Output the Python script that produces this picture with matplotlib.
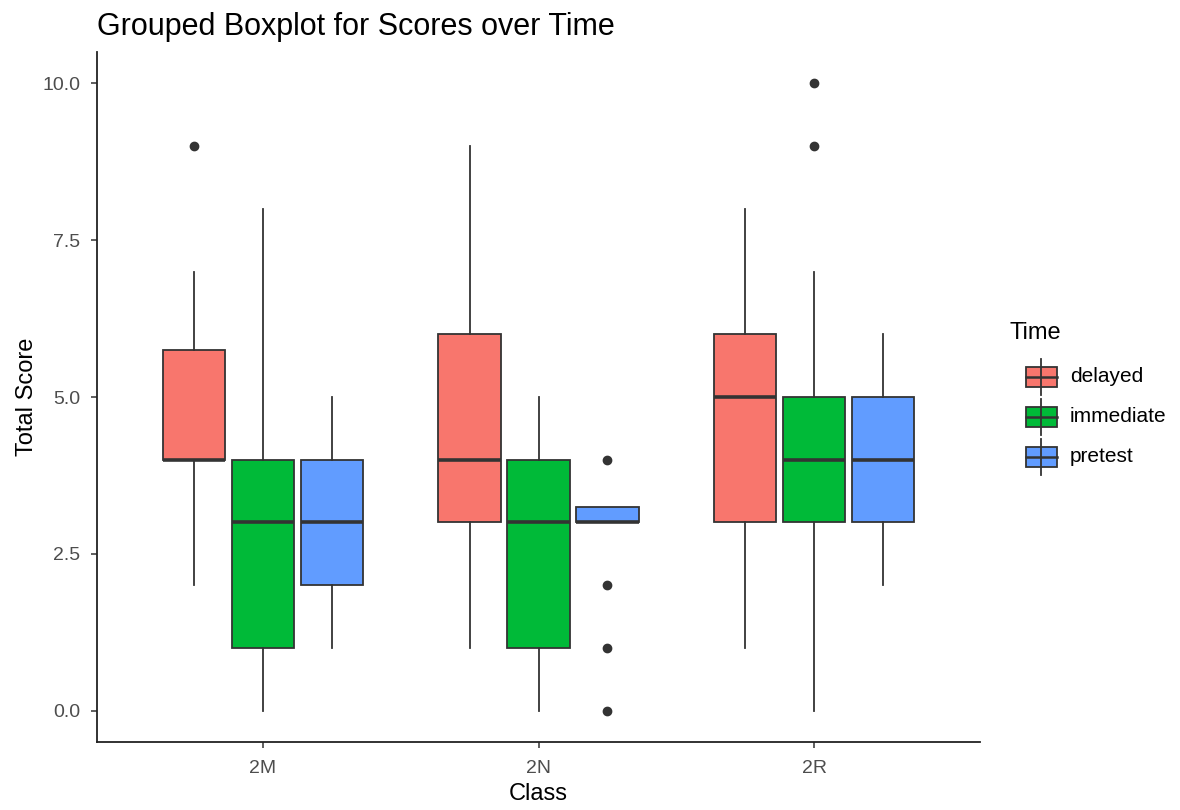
import matplotlib.pyplot as plt
from matplotlib.patches import Rectangle

plt.rcParams['font.family'] = ['Liberation Sans', 'DejaVu Sans']

classes = ['2M', '2N', '2R']
times = ['delayed', 'immediate', 'pretest']
colors = ['#F8766D', '#00BA38', '#619CFF']

# box stats per time, one entry per class: (low whisker, q1, median, q3, high whisker)
whislo = {'delayed': [2, 1, 1], 'immediate': [0, 0, 0], 'pretest': [1, 3, 2]}
q1 = {'delayed': [4, 3, 3], 'immediate': [1, 1, 3], 'pretest': [2, 3, 3]}
med = {'delayed': [4, 4, 5], 'immediate': [3, 3, 4], 'pretest': [3, 3, 4]}
q3 = {'delayed': [5.75, 6, 6], 'immediate': [4, 4, 5], 'pretest': [4, 3.25, 5]}
whishi = {'delayed': [7, 9, 8], 'immediate': [8, 5, 7], 'pretest': [5, 3.25, 6]}
outliers = {'delayed': [[9], [], []], 'immediate': [[], [], [9, 10]],
            'pretest': [[], [4, 2, 1, 0], []]}

fig = plt.figure(figsize=(11.8, 8.1), dpi=100)
ax = fig.add_axes([97 / 1180, 1 - 742 / 810, 883 / 1180, 690 / 810])

dark = '#333333'
for j, t in enumerate(times):
    stats = []
    for i in range(len(classes)):
        stats.append(dict(whislo=whislo[t][i], q1=q1[t][i], med=med[t][i],
                          q3=q3[t][i], whishi=whishi[t][i], fliers=outliers[t][i]))
    pos = [i + 1 + (j - 1) * 0.25 for i in range(len(classes))]
    ax.bxp(stats, positions=pos, widths=0.225, patch_artist=True, showcaps=False,
           boxprops=dict(facecolor=colors[j], edgecolor=dark, linewidth=1.3),
           whiskerprops=dict(color=dark, linewidth=1.3),
           medianprops=dict(color=dark, linewidth=2.6),
           flierprops=dict(marker='o', markerfacecolor=dark, markeredgecolor=dark,
                           markersize=6),
           zorder=2)

ax.set_xlim(0.4, 3.6)
ax.set_ylim(-0.5, 10.5)
ax.set_xticks([1, 2, 3])
ax.set_xticklabels(classes)
ax.set_yticks([0, 2.5, 5, 7.5, 10])
ax.set_yticklabels(['0.0', '2.5', '5.0', '7.5', '10.0'])
for s in ['top', 'right']:
    ax.spines[s].set_visible(False)
for s in ['left', 'bottom']:
    ax.spines[s].set_color('#222222')
    ax.spines[s].set_linewidth(1.3)
ax.tick_params(colors='#333333', labelcolor='#4D4D4D', labelsize=14, length=4, width=1.1)
ax.tick_params(axis='x', pad=9)
ax.tick_params(axis='y', pad=8)
ax.set_xlabel('Class', fontsize=17, labelpad=4)
ax.set_ylabel('Total Score', fontsize=17, labelpad=3)
ax.set_title('Grouped Boxplot for Scores over Time', fontsize=22, loc='left', pad=12)

# legend drawn by hand in figure pixel coordinates
lg = fig.add_axes([0, 0, 1, 1])
lg.set_xlim(0, 1180)
lg.set_ylim(810, 0)
lg.axis('off')
lg.text(1009, 333, 'Time', fontsize=17, va='center', ha='left')
for j, t in enumerate(times):
    yc = 377 + j * 40
    lg.plot([1041, 1041], [yc - 18, yc + 18], color=dark, lw=1.3)
    lg.add_patch(Rectangle((1026, yc - 10), 31, 20, facecolor=colors[j], edgecolor=dark, lw=1.3))
    lg.plot([1026, 1057], [yc, yc], color=dark, lw=1.8)
    lg.text(1070, yc, t, fontsize=15, va='center', ha='left')

fig.savefig('out.png', dpi=100)
